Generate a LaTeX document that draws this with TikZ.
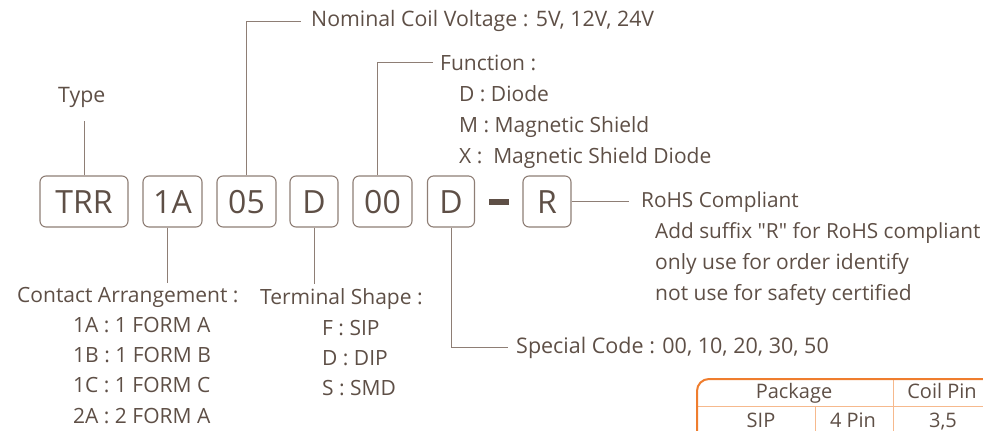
\documentclass[tikz,border=0pt]{standalone}
\usepackage{fontspec}
\setmainfont{Open Sans}[Ligatures=TeXOff]
\definecolor{txt}{HTML}{5E4F46}
\definecolor{ln}{HTML}{8E7E75}
\definecolor{org}{HTML}{EF7D2E}
\definecolor{lorg}{HTML}{F6B98D}
\tikzset{
  lbl/.style={anchor=base west, inner sep=0pt, text=txt, font=\fontsize{21}{25}\selectfont},
  tlbl/.style={anchor=base, inner sep=0pt, text=txt, font=\fontsize{20}{24}\selectfont},
  box/.style={draw=ln, line width=1.1pt, rounded corners=6pt, text=txt, inner sep=0pt,
    minimum height=51pt, text height=23pt, text depth=0pt, font=\fontsize{32}{36}\selectfont},
  conn/.style={draw=ln, line width=1pt},
}
\begin{document}
\begin{tikzpicture}[x=1pt,y=-1pt]
\useasboundingbox (0,0) rectangle (983,431);
% code boxes
\node[box, minimum width=88pt] (btrr) at (84,201.5) {TRR};
\node[box, minimum width=59pt] (b1a) at (172.5,201.5) {1A};
\node[box, minimum width=59pt] (b05) at (246.5,201.5) {05};
\node[box, minimum width=48pt] (bd) at (314,201.5) {D};
\node[box, minimum width=59pt] (b00) at (382.5,201.5) {00};
\node[box, minimum width=47pt] (bd2) at (451,201.5) {D};
\node[fill=txt, minimum width=20pt, minimum height=6pt, inner sep=0pt] (dash) at (499,202) {};
\node[box, minimum width=48pt] (br) at (547,201.5) {R};
% labels
\node[lbl, font=\fontsize{21.3}{26}\selectfont] (type) at (58,102) {Type};
\node[lbl, font=\fontsize{21.3}{26}\selectfont] (nom) at (311,27) {Nominal Coil Voltage : 5V, 12V, 24V};
\node[lbl] (func) at (440,70) {Function :};
\node[lbl] (f1) at (459,101) {D : Diode};
\node[lbl] (f2) at (459,132) {M : Magnetic Shield};
\node[lbl] (f3) at (459,163) {X : \ Magnetic Shield Diode};
\node[lbl, font=\fontsize{20.8}{25}\selectfont] (rohs) at (641,207) {RoHS Compliant};
\node[lbl, font=\fontsize{20.8}{25}\selectfont] (r1) at (655,238) {Add suffix "R" for RoHS compliant};
\node[lbl] (r2) at (655,269) {only use for order identify};
\node[lbl] (r3) at (655,300) {not use for safety certified};
\node[lbl] (ca) at (17,302) {Contact Arrangement :};
\node[lbl] (c1) at (73,332) {1A : 1 FORM A};
\node[lbl] (c2) at (73,362) {1B : 1 FORM B};
\node[lbl] (c3) at (73,392) {1C : 1 FORM C};
\node[lbl] (c4) at (73,423) {2A : 2 FORM A};
\node[lbl] (ts) at (260,304) {Terminal Shape :};
\node[lbl] (t1) at (322,335) {F : SIP};
\node[lbl] (t2) at (322,365) {D : DIP};
\node[lbl] (t3) at (322,395) {S : SMD};
\node[lbl, font=\fontsize{21.5}{25}\selectfont] (sc) at (516,353) {Special Code : 00, 10, 20, 30, 50};
% connectors
\draw[conn] (btrr.north) -- ([yshift=-14pt]btrr.north |- type.south);
\draw[conn] (b05.north) |- ([xshift=-10pt]nom.west);
\draw[conn] ([xshift=-5pt]b00.north) |- ([xshift=-7pt]func.west);
\draw[conn] (br.east) -- ([xshift=-12pt]rohs.west |- br.east);
\draw[conn] ([xshift=-5pt]b1a.south) -- ([xshift=-5pt,yshift=4pt]b1a.south |- ca.north);
\draw[conn] (bd.south) -- ([yshift=4pt]bd.south |- ts.north);
\draw[conn] (bd2.south) |- ([xshift=-8pt]sc.west);
% table
\draw[lorg, line width=1pt] (697,406) -- (983,406);
\draw[lorg, line width=1pt] (893,379) -- (893,431);
\draw[lorg, line width=1pt] (815,406) -- (815,431);
\draw[org, line width=2pt, rounded corners=12pt] (697,433) -- (697,379) -- (985,379);
\node[tlbl] (tp) at (794,398) {Package};
\node[tlbl] (tc) at (942,398) {Coil Pin};
\node[tlbl] (ts1) at (761,427) {SIP};
\node[tlbl] (ts2) at (853,427) {4 Pin};
\node[tlbl] (ts3) at (943,427) {3,5};
\end{tikzpicture}
\end{document}
